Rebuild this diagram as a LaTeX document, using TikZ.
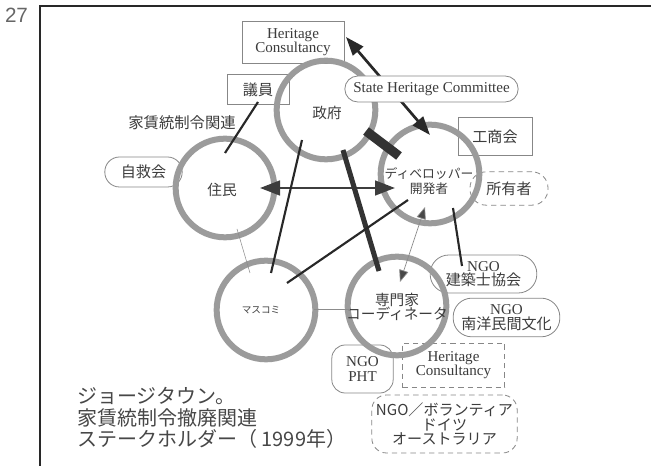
\documentclass[tikz,border=0pt]{standalone}
\usepackage{fontspec}
\setmainfont{Liberation Serif}
\newfontfamily\jp{Noto Sans CJK JP}
\newfontfamily\numfont{Liberation Sans}
\usetikzlibrary{arrows.meta}
\newcommand\tightls{\lineskiplimit=-20pt\relax}
\definecolor{ringc}{RGB}{155,155,155}
\definecolor{boxc}{RGB}{135,135,135}
\definecolor{ink}{RGB}{40,40,40}
\definecolor{txt}{RGB}{60,60,60}
\definecolor{thin}{RGB}{140,140,140}
\begin{document}
\begin{tikzpicture}[x=0.75pt,y=-0.75pt,
  ring/.style={circle, draw=ringc, line width=4.5pt, minimum size=74pt, inner sep=0pt},
  lbl/.style={inner sep=0pt, text=txt, align=center, font=\jp\fontsize{11}{11}\selectfont\tightls},
  rbox/.style={draw=boxc, fill=white, line width=0.6pt, inner sep=0pt, text=txt, align=center,
     font=\fontsize{11.3}{11}\selectfont\tightls},
  pill/.style={rbox, rounded corners=#1},
  dashbox/.style={dash pattern=on 4pt off 3pt},
  link/.style={draw=ink, line width=1.6pt},
  faint/.style={draw=thin, line width=0.4pt},
]
\useasboundingbox (0,0) rectangle (651,466);
% frame and page number
\coordinate (fTR) at (651,6);
\coordinate (fTL) at (40,6);
\coordinate (fBL) at (40,466);
\draw[ink, line width=1.1pt] (fTR) -- (fTL) -- (fBL);
\node[text=black!60, font=\numfont\fontsize{15.5}{15.5}\selectfont, inner sep=0pt] (pageno) at (16.5,15.5) {27};

% boxes below rings
\node[rbox, minimum width=76.5pt, minimum height=31.5pt] (hc) at (293,42) {Heritage\\Consultancy};
\node[rbox, minimum width=46.5pt, minimum height=23pt] (giin) at (258,89.5) {\jp 議員};
\node[pill=11pt, minimum width=58pt, minimum height=22.5pt] (jikyu) at (143.5,172) {\jp 自救会};
\node[rbox, minimum width=55.5pt, minimum height=28pt] (shoko) at (495,136.5) {\jp 工商会};
\node[pill=12pt, dashbox, minimum width=58.5pt, minimum height=25pt] (owner) at (509,188.5) {\jp 所有者};
\node[pill=14pt, minimum width=80pt, minimum height=28.5pt] (ngo1) at (483.5,274) {NGO\\{\jp 建築士協会}};
\node[pill=14pt, minimum width=80pt, minimum height=29pt] (ngo2) at (506.5,317.5) {NGO\\{\jp 南洋民間文化}};
\node[pill=10pt, minimum width=46pt, minimum height=36pt] (pht) at (362.5,369) {NGO\\PHT};
\node[rbox, dashbox, minimum width=77pt, minimum height=33pt] (hc2) at (453.5,365) {Heritage\\Consultancy};
\node[pill=11pt, dashbox, minimum width=109pt, minimum height=43.5pt] (vol) at (444.5,424) {{\jp NGO／ボランティア}\\{\jp ドイツ}\\{\jp オーストラリア}};

% rings
\node[ring] (gov) at (326,110) {};
\node[ring] (res) at (225,188) {};
\node[ring] (dev) at (430,174) {};
\node[ring] (media) at (266,310) {};
\node[ring] (expert) at (397,306) {};
\node[lbl] (govt) at (327,113) {政府};
\node[lbl] (rest) at (222,190) {住民};
\node[lbl, font=\jp\fontsize{9.6}{11.5}\selectfont\tightls] (devt) at (429,181) {ディベロッパー\\開発者};
\node[lbl, font=\jp\fontsize{7.2}{8}\selectfont] (mediat) at (261,310) {マスコミ};
\node[lbl] (expertt) at (397,307) {専門家\\コーディネータ};
\node[lbl, font=\jp\fontsize{11.5}{12}\selectfont] (rentlbl) at (182,123) {家賃統制令関連};

% heritage arrow (under State Heritage Committee box)
\coordinate (a1) at (346,37);
\coordinate (a2) at (430,135);
\draw[link, line width=2pt, {Triangle[length=14pt,width=10pt]}-{Triangle[length=14pt,width=10pt]}] (a1) -- (a2);
\node[pill=9.75pt, minimum width=130pt, minimum height=19.5pt] (shc) at (431.5,89) {State Heritage Committee};

% other connectors
\coordinate (b1) at (260,188);
\coordinate (b2) at (395,188);
\draw[draw=ink!90, line width=2pt, {Triangle[length=15pt,width=11pt]}-{Triangle[length=15pt,width=11pt]}] (b1) -- (b2);
\coordinate (g1) at (258,102);
\coordinate (g2) at (225,153);
\draw[link] (g1) -- (g2);
\coordinate (k1) at (366,131);
\coordinate (k2) at (399,156);
\draw[draw=ink!95, line width=7pt] (k1) -- (k2);
\coordinate (e1) at (343,150);
\coordinate (e2) at (379,271);
\draw[draw=ink!95, line width=3.8pt] (e1) -- (e2);
\coordinate (m1) at (302,140);
\coordinate (m2) at (271,273);
\draw[link] (m1) -- (m2);
\coordinate (d1) at (408,200);
\coordinate (d2) at (287,283);
\draw[link] (d1) -- (d2);
\coordinate (x1) at (425,207);
\coordinate (x2) at (400,282);
\draw[faint, line width=0.5pt, {Triangle[length=9pt,width=7pt,fill=ink!85]}-{Triangle[length=9pt,width=7pt,fill=ink!85]}] (x1) -- (x2);
\coordinate (n1) at (453,208);
\coordinate (n2) at (462,266);
\draw[link] (n1) -- (n2);
\coordinate (r1) at (237,229);
\coordinate (r2) at (250,273);
\draw[faint] (r1) -- (r2);
\coordinate (h1) at (314,309);
\coordinate (h2) at (350,309);
\draw[faint] (h1) -- (h2);

% caption
\node[anchor=west, inner sep=0pt, align=left, text=black!72,
  font=\jp\fontsize{15}{16.2}\selectfont\tightls] (caption) at (77,418) {ジョージタウン。\\家賃統制令撤廃関連\\ステークホルダー（ 1999年）};
\end{tikzpicture}
\end{document}
